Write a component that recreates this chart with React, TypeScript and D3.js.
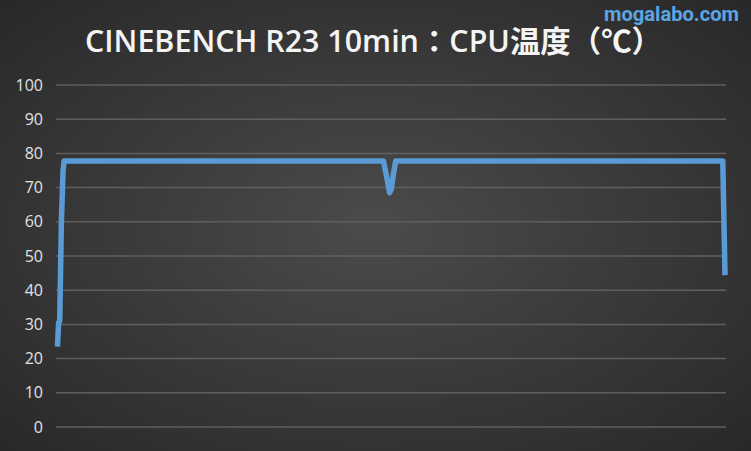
import React, { useRef, useEffect } from 'react';
import * as d3 from 'd3';

// elapsed seconds and CPU temperature (°C)
const TIMES: number[] = [0, 1, 2, 3.5, 5, 6, 150, 293, 296, 298.5, 300, 302, 304, 450, 598, 600];
const TEMPS: number[] = [23.5, 30.5, 31, 60, 75, 77.8, 77.8, 77.8, 73, 68.5, 69.5, 74, 77.8, 77.8, 77.8, 44.4];
const Y_TICKS: number[] = [0, 10, 20, 30, 40, 50, 60, 70, 80, 90, 100];

const TITLE = 'CINEBENCH R23 10min：CPU温度（℃）';
const WATERMARK = 'mogalabo.com';

const W = 751;
const H = 451;

const App: React.FC = () => {
  const svgRef = useRef<SVGSVGElement>(null);

  useEffect(() => {
    document.body.style.margin = '0';
    if (!svgRef.current) return;

    const svg = d3.select(svgRef.current);
    svg.selectAll('*').remove();

    const margin = { top: 85, right: 25, bottom: 24, left: 56 };
    const plotW = W - margin.left - margin.right;
    const plotH = H - margin.top - margin.bottom;

    // Background
    const defs = svg.append('defs');
    const grad = defs
      .append('radialGradient')
      .attr('id', 'bg')
      .attr('cx', '50%')
      .attr('cy', '50%')
      .attr('r', '75%');
    grad.append('stop').attr('offset', '0%').attr('stop-color', '#4b4b4b');
    grad.append('stop').attr('offset', '100%').attr('stop-color', '#262626');
    svg.append('rect').attr('width', W).attr('height', H).attr('fill', 'url(#bg)');

    const g = svg.append('g').attr('transform', `translate(${margin.left},${margin.top})`);

    const x = d3.scaleLinear().domain([0, 600]).range([1.5, plotW - 1]);
    const y = d3.scaleLinear().domain([0, 100]).range([plotH, 0]);

    // Grid lines
    g.append('g')
      .selectAll('line')
      .data(Y_TICKS)
      .join('line')
      .attr('x1', 0)
      .attr('x2', plotW)
      .attr('y1', d => y(d))
      .attr('y2', d => y(d))
      .attr('stroke', '#5f5f5f')
      .attr('stroke-width', 1.5);

    // Y axis
    const yAxis = g
      .append('g')
      .attr('transform', 'translate(-13,0)')
      .call(d3.axisLeft(y).tickValues(Y_TICKS).tickSize(0).tickPadding(0));
    yAxis.select('.domain').remove();
    yAxis
      .selectAll('text')
      .attr('fill', '#e2e2e2')
      .attr('font-size', '16px')
      .attr('font-family', 'Open Sans, sans-serif');

    // Line
    const pts = TIMES.map((t, i) => [t, TEMPS[i]] as [number, number]);
    const line = d3
      .line<[number, number]>()
      .x(d => x(d[0]))
      .y(d => y(d[1]));
    g.append('path')
      .datum(pts)
      .attr('d', line)
      .attr('fill', 'none')
      .attr('stroke', '#5b9bd5')
      .attr('stroke-width', 5.5)
      .attr('stroke-linejoin', 'round')
      .attr('stroke-linecap', 'butt');

    // Title
    svg
      .append('text')
      .attr('x', 85)
      .attr('y', 52)
      .attr('fill', '#f4f4f4')
      .attr('font-size', '30px')
      .attr('font-weight', 600)
      .attr('font-family', 'Open Sans, Noto Sans CJK JP, sans-serif')
      .attr('textLength', 577)
      .attr('lengthAdjust', 'spacingAndGlyphs')
      .text(TITLE);

    // Watermark
    svg
      .append('text')
      .attr('x', 604)
      .attr('y', 21)
      .attr('fill', '#5aa6e6')
      .attr('font-size', '21px')
      .attr('font-weight', 'bold')
      .attr('font-family', 'Liberation Sans Narrow, Roboto, sans-serif')
      .attr('textLength', 135)
      .attr('lengthAdjust', 'spacingAndGlyphs')
      .text(WATERMARK);
  }, []);

  return (
    <div style={{ width: W, height: H }}>
      <svg ref={svgRef} width={W} height={H} style={{ display: 'block' }} />
    </div>
  );
};

export default App;
